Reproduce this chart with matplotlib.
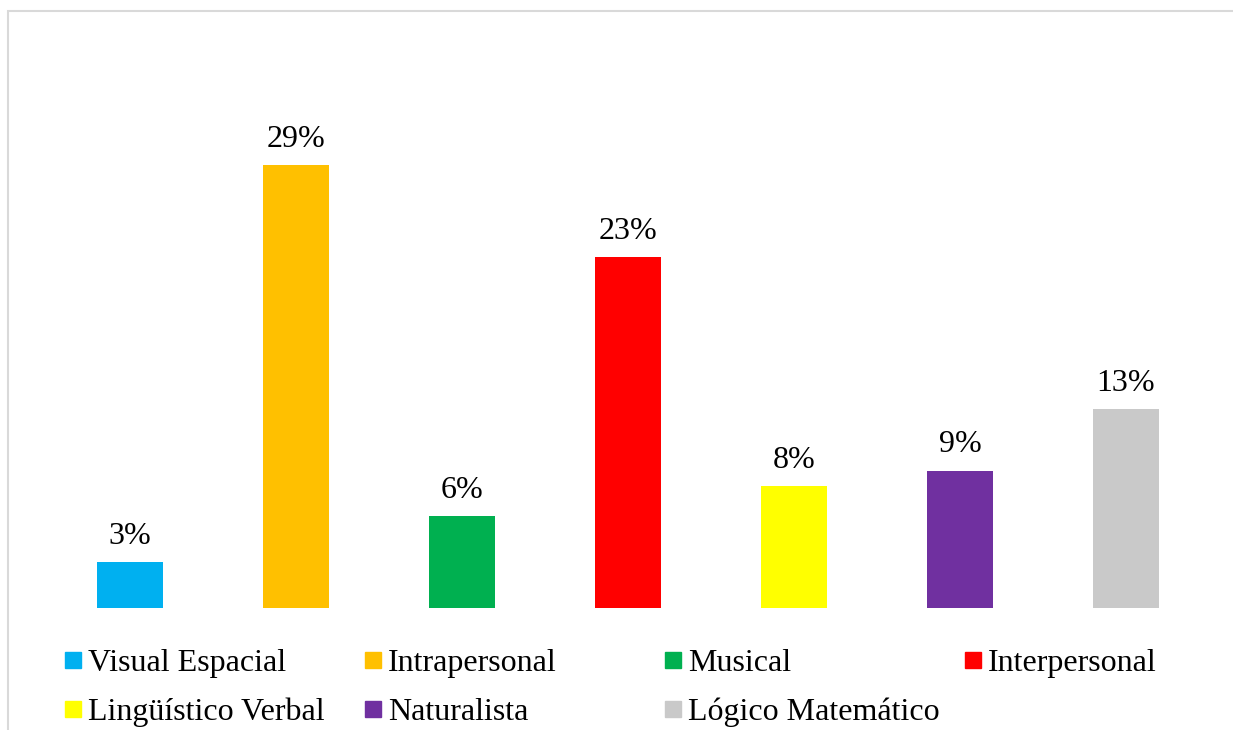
import matplotlib.pyplot as plt
from matplotlib.patches import Rectangle

categories = ["Visual Espacial", "Intrapersonal", "Musical", "Interpersonal",
              "Lingüístico Verbal", "Naturalista", "Lógico Matemático"]
values = [3, 29, 6, 23, 8, 9, 13]
colors = ["#00b0f0", "#ffc000", "#00b050", "#ff0000", "#ffff00", "#7030a0", "#c9c9c9"]

W, H = 1233, 730
plt.rcParams['font.family'] = ['Liberation Serif', 'DejaVu Serif']

fig = plt.figure(figsize=(W / 100, H / 100), dpi=100)
ax = fig.add_axes([47 / W, 1 - 608 / H, (1209 - 47) / W, (608 - 58) / H])

x = range(len(categories))
bars = ax.bar(x, values, width=0.4, color=colors)
for b, v in zip(bars, values):
    ax.annotate(f"{v}%", (b.get_x() + b.get_width() / 2, v), xytext=(0, 13),
                textcoords="offset points", ha="center", va="baseline", fontsize=23)

ax.set_xlim(-0.5, len(categories) - 0.5)
ax.set_ylim(0, 36)
ax.axis("off")

# outer frame (only top and left visible in the original crop)
fig.patches.append(Rectangle((8 / W, -0.1), 1.2, (H - 11) / H + 0.1, transform=fig.transFigure,
                             fill=False, edgecolor="#d9d9d9", linewidth=1.5))

# legend laid out as a fixed grid, row by row
for i, (name, c) in enumerate(zip(categories, colors)):
    col, row = i % 4, i // 4
    px = 65 + col * 300
    py = 668 + row * 49
    fig.patches.append(Rectangle((px / W, 1 - py / H), 16 / W, 16 / H,
                                 transform=fig.transFigure, color=c))
    fig.text((px + 23) / W, 1 - (py + 3) / H, name, fontsize=23, va="baseline")

fig.savefig("out.png", dpi=100)
